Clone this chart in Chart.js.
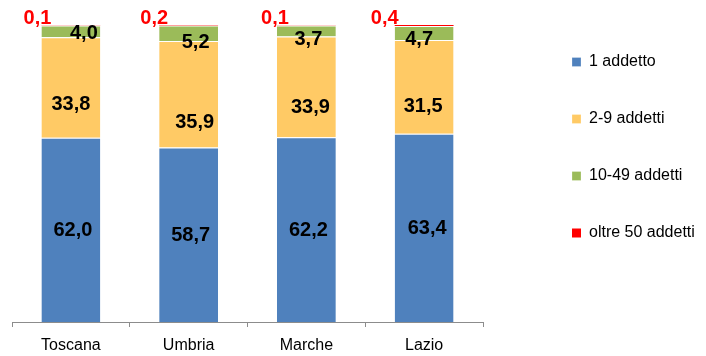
<!DOCTYPE html>
<html>
<head>
<meta charset="utf-8">
<script src="https://cdn.jsdelivr.net/npm/chart.js@4/dist/chart.umd.min.js"></script>
<style>
  html, body { margin: 0; padding: 0; background: #fff; }
  #wrap { width: 706px; height: 356px; }
</style>
</head>
<body>
<div id="wrap"><canvas id="chart"></canvas></div>
<script>
// dati
const regioni = ['Toscana', 'Umbria', 'Marche', 'Lazio'];
const unAddetto = [62.0, 58.7, 62.2, 63.4];
const da2a9 = [33.8, 35.9, 33.9, 31.5];
const da10a49 = [4.0, 5.2, 3.7, 4.7];
const oltre50 = [0.1, 0.2, 0.1, 0.4];

// spostamenti delle etichette (come nel grafico originale)
const shiftY = [
    [1, 1, 1, 1],
    [17, 28, 21, 20],
    [2, 9, 9, 6]
];
const shiftX = [
    [2, 2, 2, 3],
    [0, 6, 4, -1],
    [13, 7, 2, -5]
];
const redShiftX = [-4, -5, -2, -10];

const etichette = {
    id: 'etichette',
    afterDatasetsDraw(chart) {
        const ctx = chart.ctx;
        ctx.save();
        ctx.font = 'bold 20px "Liberation Sans", Arial, sans-serif';
        ctx.textAlign = 'center';
        ctx.textBaseline = 'middle';
        chart.data.datasets.forEach((ds, i) => {
            const meta = chart.getDatasetMeta(i);
            meta.data.forEach((bar, j) => {
                const testo = ds.data[j].toFixed(1).replace('.', ',');
                if (i < 3) {
                    ctx.fillStyle = '#000';
                    ctx.fillText(testo, bar.x + shiftX[i][j], (bar.y + bar.base) / 2 + shiftY[i][j]);
                } else {
                    ctx.fillStyle = '#ff0000';
                    ctx.fillText(testo, bar.x - bar.width / 2 + redShiftX[j], chart.scales.y.getPixelForValue(100) - 6);
                }
            });
        });
        ctx.restore();
    }
};

const ctx = document.getElementById('chart').getContext('2d');
const grafico = new Chart(ctx, {
    type: 'bar',
    data: {
        labels: regioni,
        datasets: [
            { label: '1 addetto', data: unAddetto, backgroundColor: '#4F81BD' },
            { label: '2-9 addetti', data: da2a9, backgroundColor: '#FFCA65' },
            { label: '10-49 addetti', data: da10a49, backgroundColor: '#9BBB59' },
            { label: 'oltre 50 addetti', data: oltre50, backgroundColor: '#FF0000', borderWidth: 0 }
        ]
    },
    options: {
        responsive: true,
        maintainAspectRatio: false,
        animation: false,
        datasets: {
            bar: {
                categoryPercentage: 1,
                barPercentage: 0.5,
                borderColor: '#ffffff',
                borderWidth: { top: 1 },
                borderSkipped: false
            }
        },
        layout: { padding: { left: 12, top: 13, right: 2, bottom: 0 } },
        plugins: {
            legend: {
                position: 'right',
                align: 'start',
                labels: {
                    boxWidth: 9,
                    boxHeight: 9,
                    padding: 41,
                    color: '#000',
                    font: { family: '"Liberation Sans", Arial, sans-serif', size: 16 }
                }
            },
            tooltip: { enabled: false }
        },
        scales: {
            x: {
                stacked: true,
                grid: {
                    offset: true,
                    drawOnChartArea: false,
                    drawTicks: true,
                    tickLength: 5,
                    color: '#8c8c8c'
                },
                border: { display: true, color: '#8c8c8c' },
                ticks: {
                    color: '#000',
                    padding: 9,
                    font: { family: '"Liberation Sans", Arial, sans-serif', size: 16 }
                },
                afterFit(scale) { scale.height = 34; }
            },
            y: {
                stacked: true,
                min: 0,
                max: 104,
                position: 'right',
                grid: { display: false },
                border: { display: false },
                ticks: { display: false },
                afterFit(scale) { scale.width = 48; }
            }
        }
    },
    plugins: [etichette]
});
</script>
</body>
</html>
